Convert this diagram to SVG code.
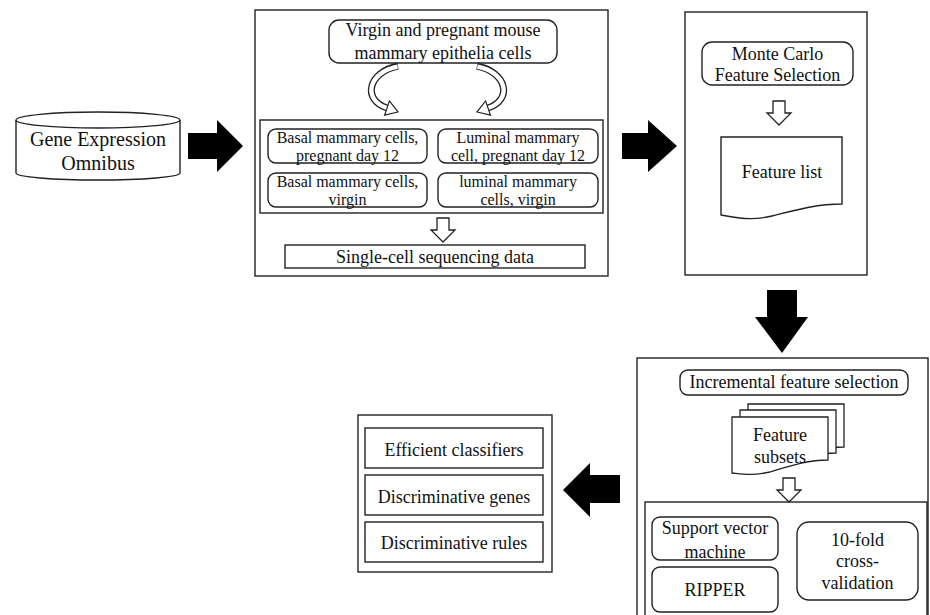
<svg xmlns="http://www.w3.org/2000/svg" width="930" height="615" viewBox="0 0 930 615">
<style>
.b{fill:#fff;stroke:#222;stroke-width:1.4}
.t{font-family:"Liberation Serif","Times New Roman",serif;font-size:18px;fill:#111;text-anchor:middle}
.s{font-size:16px}
.g{font-size:20px}
.blk{fill:#000}
</style>
<defs>
<path id="ha" d="M-6,0 H6 V12 H12 L0,24 L-12,12 H-6 Z" fill="#fff" stroke="#222" stroke-width="1.3"/>
<path id="doc" d="M0,0 H96 V43 C75,43 55,50 38,55 C20,59 10,57 0,56 Z" fill="#fff" stroke="#222" stroke-width="1.3"/>
<g id="carrow">
<path d="M398,66 C368,72 362,100 387,108" fill="none" stroke="#222" stroke-width="7"/>
<path d="M397.6,66.6 C368,72 362,100 387,108" fill="none" stroke="#fff" stroke-width="4.4"/>
<polygon points="384.6,115.1 389.4,100.9 398,112" fill="#fff" stroke="#222" stroke-width="1.2"/>
</g>
</defs>

<g id="geo">
<path class="b" d="M16,120 L16,173 A82,7 0 0 0 180,173 L180,120"/>
<ellipse class="b" cx="98" cy="120" rx="82" ry="8"/>
<text class="t g" x="98" y="146">Gene Expression</text>
<text class="t g" x="98" y="170">Omnibus</text>
</g>

<g id="data-box">
<rect class="b" x="255" y="10" width="353" height="266"/>
<g id="mouse-cells">
<rect class="b" x="329" y="20" width="228" height="43" rx="10"/>
<text class="t" x="443" y="36">Virgin and pregnant mouse</text>
<text class="t" x="443" y="59">mammary epithelia cells</text>
</g>
<g id="cell-types">
<rect class="b" x="260" y="120" width="343" height="93"/>
<rect class="b" x="268" y="129" width="159" height="34" rx="8"/>
<text class="t s" x="347.5" y="143">Basal mammary cells,</text>
<text class="t s" x="347.5" y="161">pregnant day 12</text>
<rect class="b" x="438" y="129" width="160" height="34" rx="8"/>
<text class="t s" x="518" y="143">Luminal mammary</text>
<text class="t s" x="518" y="161">cell, pregnant day 12</text>
<rect class="b" x="268" y="173" width="159" height="34" rx="8"/>
<text class="t s" x="347.5" y="187">Basal mammary cells,</text>
<text class="t s" x="347.5" y="205">virgin</text>
<rect class="b" x="438" y="173" width="160" height="34" rx="8"/>
<text class="t s" x="518" y="187">luminal mammary</text>
<text class="t s" x="518" y="205">cells, virgin</text>
</g>
<g id="scseq">
<rect class="b" x="285" y="245" width="300" height="23"/>
<text class="t" x="435" y="263">Single-cell sequencing data</text>
</g>
</g>

<g id="mcfs-box">
<rect class="b" x="685" y="12" width="182" height="263"/>
<g id="mcfs">
<rect class="b" x="702" y="42" width="151" height="43" rx="10"/>
<text class="t" x="777.5" y="60">Monte Carlo</text>
<text class="t" x="777.5" y="81">Feature Selection</text>
</g>
<g id="feature-list">
<path class="b" d="M721,137 H842 V204 C815,204 792,211 772,216 C752,221 736,218 721,215 Z"/>
<text class="t" x="782" y="178">Feature list</text>
</g>
</g>

<g id="ifs-box">
<rect class="b" x="637" y="358" width="291" height="270"/>
<g id="ifs">
<rect class="b" x="680" y="370" width="228" height="25" rx="8"/>
<text class="t" x="794" y="388">Incremental feature selection</text>
</g>
<g id="subsets">
<use href="#doc" transform="translate(748,404)"/>
<use href="#doc" transform="translate(740,410)"/>
<use href="#doc" transform="translate(732,417)"/>
<text class="t" x="780" y="441">Feature</text>
<text class="t" x="780" y="463">subsets</text>
</g>
<g id="models">
<rect class="b" x="645" y="502" width="282" height="126"/>
<rect class="b" x="652" y="517" width="126" height="43" rx="8"/>
<text class="t" x="715" y="534">Support vector</text>
<text class="t" x="715" y="558">machine</text>
<rect class="b" x="652" y="567" width="126" height="45" rx="8"/>
<text class="t" x="715" y="596">RIPPER</text>
<rect class="b" x="797" y="522" width="121" height="78" rx="12"/>
<text class="t" x="857.5" y="546">10-fold</text>
<text class="t" x="857.5" y="567">cross-</text>
<text class="t" x="857.5" y="589">validation</text>
</g>
</g>

<g id="results">
<rect class="b" x="358" y="415" width="194" height="157"/>
<rect class="b" x="365" y="428" width="178" height="40"/>
<text class="t" x="454" y="456">Efficient classifiers</text>
<rect class="b" x="365" y="475" width="178" height="40"/>
<text class="t" x="454" y="503">Discriminative genes</text>
<rect class="b" x="365" y="522" width="178" height="40"/>
<text class="t" x="454" y="549">Discriminative rules</text>
</g>

<g id="connectors">
<polygon class="blk" points="188,133 217,133 217,120 243,146 217,172 217,159 188,159"/>
<polygon class="blk" points="622,133 648,133 648,120 677,146 648,172 648,159 622,159"/>
<polygon class="blk" points="767,290 797,290 797,317 808,317 782,353 755,317 767,317"/>
<polygon class="blk" points="620,475 590,475 590,463 563,490 590,517 590,503 620,503"/>
<use href="#carrow"/>
<use href="#carrow" transform="translate(875,0) scale(-1,1)"/>
<use href="#ha" transform="translate(443,218)"/>
<use href="#ha" transform="translate(779,101)"/>
<use href="#ha" transform="translate(789,478)"/>
</g>
</svg>
